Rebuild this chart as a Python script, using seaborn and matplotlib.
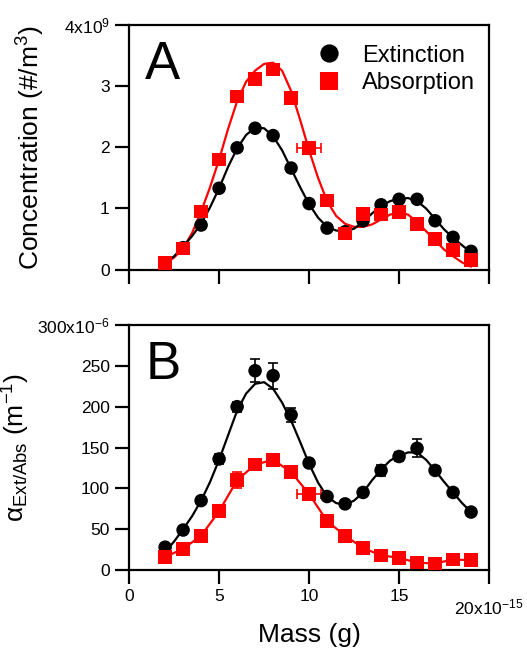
import numpy as np
import pandas as pd
import matplotlib
matplotlib.use("Agg")
import matplotlib.pyplot as plt
import matplotlib.transforms as mtransforms
import seaborn as sns

# ---------------- data ----------------
mass = [2, 3, 4, 5, 6, 7, 8, 9, 10, 11, 12, 13, 14, 15, 16, 17, 18, 19]

# Panel A: concentration (x1e9 #/m^3)
conc_ext = [0.10, 0.36, 0.73, 1.33, 1.99, 2.31, 2.19, 1.66, 1.08, 0.68, 0.62,
            0.80, 1.06, 1.15, 1.15, 0.80, 0.53, 0.30]
conc_abs = [0.11, 0.35, 0.95, 1.80, 2.83, 3.11, 3.27, 2.80, 1.99, 1.13, 0.59,
            0.91, 0.90, 0.94, 0.75, 0.50, 0.32, 0.16]
conc_abs_xerr = [0, 0, 0, 0, 0, 0, 0, 0, 0.65, 0, 0, 0, 0, 0, 0, 0, 0, 0]

# fitted curves
fit_x = [2, 2.5, 3, 3.5, 4, 4.5, 5, 5.5, 6, 6.5, 7, 7.5, 8, 8.5, 9, 9.5, 10,
         10.5, 11, 11.5, 12, 12.5, 13, 13.5, 14, 14.5, 15, 15.5, 16, 16.5, 17,
         17.5, 18, 18.5, 19]
fit_conc_abs = [0.10, 0.20, 0.35, 0.60, 0.95, 1.35, 1.80, 2.30, 2.75, 3.07,
                3.25, 3.36, 3.38, 3.25, 2.92, 2.45, 1.95, 1.50, 1.12, 0.88,
                0.75, 0.70, 0.70, 0.74, 0.82, 0.90, 0.93, 0.90, 0.78, 0.63,
                0.48, 0.33, 0.22, 0.12, 0.05]
fit_conc_ext = [0.10, 0.22, 0.38, 0.55, 0.75, 1.02, 1.33, 1.68, 1.98, 2.20,
                2.32, 2.31, 2.18, 1.95, 1.65, 1.35, 1.07, 0.85, 0.70, 0.64,
                0.63, 0.67, 0.78, 0.92, 1.04, 1.12, 1.16, 1.17, 1.12, 1.00,
                0.83, 0.66, 0.52, 0.40, 0.28]

# Panel B: alpha (x1e-6 1/m)
alpha_ext = [28, 49, 85, 136, 200, 244, 238, 190, 131, 90, 81, 95, 122, 139,
             149, 122, 95, 71]
alpha_ext_err = [3, 3, 4, 6, 6, 14, 16, 9, 5, 4, 3, 4, 7, 5, 11, 5, 4, 3]
alpha_abs = [16, 26, 42, 72, 110, 129, 135, 120, 93, 60, 42, 27, 18, 15, 9,
             8, 13, 12]
alpha_abs_err = [3, 3, 3, 3, 10, 3, 3, 3, 3, 6, 3, 5, 7, 3, 3, 3, 6, 7]
alpha_abs_xerr = [0, 0, 0, 0, 0, 0, 0, 0, 0.65, 0, 0, 0, 0, 0, 0, 0, 0, 0]
fit_alpha_ext = [22, 35, 50, 66, 85, 108, 135, 165, 195, 216, 228, 230, 222,
                 205, 183, 157, 130, 107, 90, 82, 80, 85, 95, 110, 123, 134,
                 140, 144, 144, 135, 122, 108, 95, 82, 71]

series_names = ["Extinction", "Absorption"]
colors = {"Extinction": "#000000", "Absorption": "#ff0000"}
markers = {"Extinction": "o", "Absorption": "s"}

y1_ticks = [0, 1, 2, 3, 4]
y1_labels = ["0", "1", "2", "3", r"4x10$^{9}$"]
y2_ticks = [0, 50, 100, 150, 200, 250, 300]
y2_labels = ["0", "50", "100", "150", "200", "250", r"300x10$^{-6}$"]
x_ticks = [0, 5, 10, 15, 20]
x_labels = ["0", "5", "10", "15", r"20x10$^{-15}$"]

# ---------------- style ----------------
sns.set_style("white")
plt.rcParams["font.family"] = ["Liberation Sans", "DejaVu Sans"]
plt.rcParams["mathtext.fontset"] = "custom"
plt.rcParams["mathtext.rm"] = "Liberation Sans"
plt.rcParams["mathtext.it"] = "Liberation Sans:italic"
plt.rcParams["mathtext.bf"] = "Liberation Sans:bold"
plt.rcParams["mathtext.default"] = "regular"
plt.rcParams["text.color"] = "black"
plt.rcParams["axes.labelcolor"] = "black"
plt.rcParams["xtick.color"] = "black"
plt.rcParams["ytick.color"] = "black"

fig = plt.figure(figsize=(5.27, 6.5), dpi=100)
ax1 = fig.add_axes([0.245, 0.585, 0.683, 0.377])
ax2 = fig.add_axes([0.245, 0.123, 0.683, 0.377])

dfA = pd.DataFrame({
    "Mass": mass * 2,
    "val": conc_ext + conc_abs,
    "Series": [series_names[0]] * len(mass) + [series_names[1]] * len(mass),
})
dfB = pd.DataFrame({
    "Mass": mass * 2,
    "val": alpha_ext + alpha_abs,
    "Series": [series_names[0]] * len(mass) + [series_names[1]] * len(mass),
})

# ---- Panel A ----
sns.lineplot(x=fit_x, y=fit_conc_abs, color=colors["Absorption"], lw=1.6,
             ax=ax1, zorder=2)
sns.lineplot(x=fit_x, y=fit_conc_ext, color=colors["Extinction"], lw=1.6,
             ax=ax1, zorder=2)
ax1.errorbar(mass, conc_abs, xerr=conc_abs_xerr, fmt="none",
             ecolor=colors["Absorption"], elinewidth=1.2, capsize=3.5,
             capthick=1.2, zorder=3)
sns.scatterplot(data=dfA, x="Mass", y="val", hue="Series", style="Series",
                palette=colors, markers=markers, s=95, linewidth=0,
                ax=ax1, zorder=4)
h, l = ax1.get_legend_handles_labels()
ax1.legend(h, l, frameon=False, loc="center left",
           bbox_to_anchor=(0.49, 0.818), fontsize=17, handlelength=1.0,
           handletextpad=0.9, labelspacing=0.22, borderpad=0,
           markerscale=1.35)

# ---- Panel B ----
sns.lineplot(x=fit_x, y=fit_alpha_ext, color=colors["Extinction"], lw=1.6,
             ax=ax2, zorder=2)
sns.lineplot(x=mass, y=alpha_abs, color=colors["Absorption"], lw=1.6,
             ax=ax2, zorder=2)
ax2.errorbar(mass, alpha_ext, yerr=alpha_ext_err, fmt="none",
             ecolor=colors["Extinction"], elinewidth=1.2, capsize=3.5,
             capthick=1.2, zorder=3)
ax2.errorbar(mass, alpha_abs, yerr=alpha_abs_err, xerr=alpha_abs_xerr,
             fmt="none", ecolor=colors["Absorption"], elinewidth=1.2,
             capsize=3.5, capthick=1.2, zorder=3)
sns.scatterplot(data=dfB, x="Mass", y="val", hue="Series", style="Series",
                palette=colors, markers=markers, s=95, linewidth=0,
                ax=ax2, zorder=4, legend=False)

# ---- axes formatting ----
for ax in (ax1, ax2):
    ax.set_xlim(0, 20)
    ax.set_xticks(x_ticks)
    for sp in ax.spines.values():
        sp.set_linewidth(1.6)
        sp.set_color("black")
    ax.tick_params(axis="both", direction="out", length=10, width=1.6,
                   labelsize=12.5, colors="black", pad=4,
                   bottom=True, left=True, top=False, right=False)
    ax.set_xlabel("")
    ax.set_ylabel("")

ax1.set_ylim(0, 4)
ax1.set_yticks(y1_ticks)
ax1.set_yticklabels(y1_labels)
ax1.set_xticklabels([])
ax1.set_ylabel(r"Concentration (#/m$^{3}$)", fontsize=19, labelpad=12)

ax2.set_ylim(0, 300)
ax2.set_yticks(y2_ticks)
ax2.set_yticklabels(y2_labels)
ax2.set_xticklabels(x_labels)
ax2.set_ylabel(r"$\alpha_{Ext/Abs}$ (m$^{-1}$)", fontsize=19, labelpad=4)
ax2.set_xlabel("Mass (g)", fontsize=19)
ax2.xaxis.set_label_coords(0.5, -0.215)

# shift the last x tick label (with exponent) slightly down, as in reference
last = ax2.get_xticklabels()[-1]
last.set_transform(last.get_transform() +
                   mtransforms.ScaledTranslation(0, -6 / 72, fig.dpi_scale_trans))

ax1.text(0.045, 0.78, "A", transform=ax1.transAxes, fontsize=38,
         ha="left", va="baseline", color="black")
ax2.text(0.045, 0.78, "B", transform=ax2.transAxes, fontsize=38,
         ha="left", va="baseline", color="black")

fig.savefig("out.png", dpi=100)
